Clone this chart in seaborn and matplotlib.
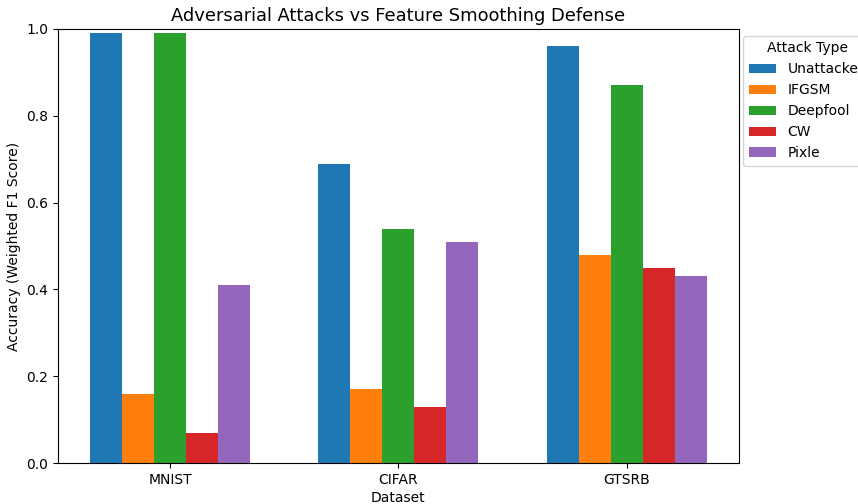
import pandas as pd
import matplotlib.pyplot as plt
import seaborn as sns

datasets = ["MNIST", "CIFAR", "GTSRB"]
ataques = ["Unattacked", "IFGSM", "Deepfool", "CW", "Pixle"]
unattacked = [0.99, 0.69, 0.96]
ifgsm = [0.16, 0.17, 0.48]
deepfool = [0.99, 0.54, 0.87]
cw = [0.07, 0.13, 0.45]
pixle = [0.41, 0.51, 0.43]

valores = [unattacked, ifgsm, deepfool, cw, pixle]
filas = []
for ataque, serie in zip(ataques, valores):
    for ds, v in zip(datasets, serie):
        filas.append({"Dataset": ds, "Attack Type": ataque, "Accuracy": v})
df = pd.DataFrame(filas)

fig = plt.figure(figsize=(8.58, 5.04), dpi=100)
ax = fig.add_axes([0.0676, 0.0813, 0.7935, 0.8612])

sns.barplot(data=df, x="Dataset", y="Accuracy", hue="Attack Type",
            palette="tab10", width=0.7, saturation=1, ax=ax)

ax.set_xlim(-0.49, 2.49)
ax.set_ylim(0, 1.0)
ax.set_title("Adversarial Attacks vs Feature Smoothing Defense", fontsize=12.9)
ax.set_xlabel("Dataset", labelpad=3)
ax.set_ylabel("Accuracy (Weighted F1 Score)")
# leyenda fuera del eje, pegada al borde derecho
ax.legend(title="Attack Type", loc="upper left", bbox_to_anchor=(0.996, 1))

fig.savefig("out.png", dpi=100)
